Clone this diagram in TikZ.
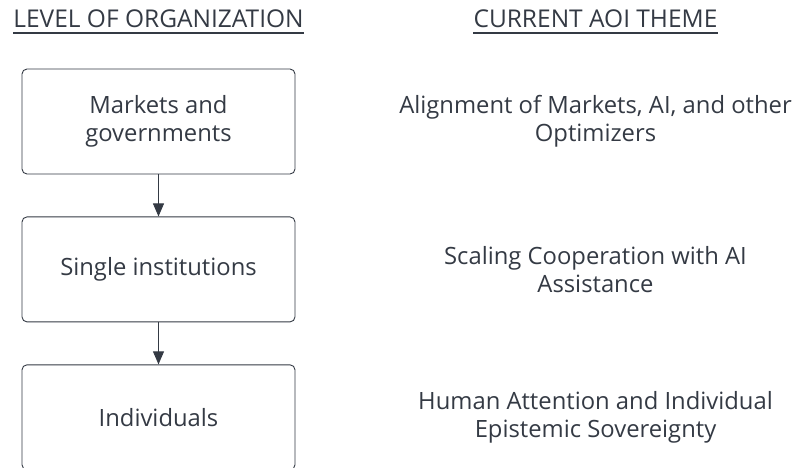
\documentclass[tikz,border=0pt]{standalone}
\usepackage{fontspec}
\setmainfont{Open Sans}
\usetikzlibrary{positioning, arrows.meta}
\definecolor{tinta}{RGB}{52,58,68}
\tikzset{caja/.style={draw=tinta,rounded corners=5pt,line width=0.9pt,minimum width=273pt,minimum height=105pt,align=center}}
\tikzset{tema/.style={align=center}}
\tikzset{titulo/.style={inner sep=0pt,anchor=base,font=\fontsize{24.5}{28}\selectfont}}
\tikzset{flecha/.style={draw=tinta,line width=0.9pt,-{Triangle[length=13pt,width=11pt]}}}
\tikzset{subrayado/.style={draw=tinta,line width=2pt}}

\begin{document}
\begin{tikzpicture}[
                x = 1pt, y = -1pt,
                every node/.style={text=tinta,font=\fontsize{23.8}{28}\selectfont}
            ]
                \clip (0,0) rectangle (795,467);

                \node[titulo] (h1) at (158.5,27) {LEVEL OF ORGANIZATION};
                \node[titulo] (h2) at (595.5,27) {CURRENT AOI THEME};
                \draw[subrayado] ([yshift=-6pt]h1.base west) -- ([yshift=-6pt]h1.base east);
                \draw[subrayado] ([yshift=-6pt]h2.base west) -- ([yshift=-6pt]h2.base east);

                \node[caja] (b1) at (158.5,121.5) {Markets and\\governments};
                \node[caja, below= 42pt of b1] (b2) {Single institutions};
                \node[caja, below= 42pt of b2] (b3) {Individuals};

                \node[tema] (t1) at (b1 -| h2) {Alignment of Markets, AI, and other\\Optimizers};
                \node[tema] (t2) at (b2 -| h2) {Scaling Cooperation with AI\\Assistance};
                \node[tema] (t3) at (b3 -| h2) {Human Attention and Individual\\Epistemic Sovereignty};

                \draw[flecha] (b1) -- (b2);
                \draw[flecha] (b2) -- (b3);
            \end{tikzpicture}
\end{document}
